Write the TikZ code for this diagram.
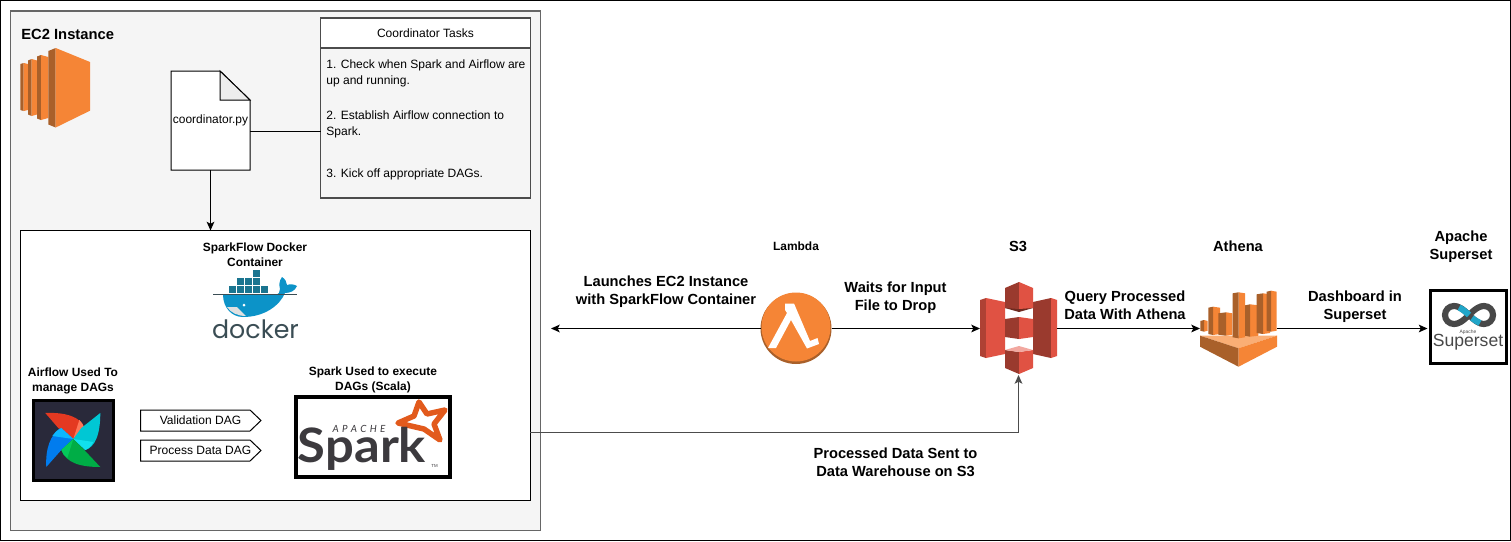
\documentclass[tikz,border=0pt]{standalone}
\usepackage{fontspec}
\setmainfont{Liberation Sans}
\newfontfamily\logofont{Poppins}
\newfontfamily\sparkfont{Lato}
\usetikzlibrary{arrows.meta}
\def\px{0.02cm}
\definecolor{awsorange}{HTML}{F58536}
\definecolor{awsbrown}{HTML}{A9602A}
\definecolor{awslight}{HTML}{FAAE75}
\definecolor{s3red}{HTML}{E05243}
\definecolor{s3dark}{HTML}{9A3A2E}
\definecolor{s3pink}{HTML}{F2A8A0}
\definecolor{s3deep}{HTML}{6E2A20}
\definecolor{flowbg}{HTML}{29293A}
\definecolor{flowred}{HTML}{E43921}
\definecolor{flowcoral}{HTML}{FF7557}
\definecolor{flowblue}{HTML}{017CEE}
\definecolor{flowsky}{HTML}{0CB6FF}
\definecolor{flowteal}{HTML}{00C7D4}
\definecolor{flowcyan}{HTML}{11E1EE}
\definecolor{flowgreen}{HTML}{00AD46}
\definecolor{flowlime}{HTML}{04C85A}
\definecolor{whale}{HTML}{0C93C8}
\definecolor{crate}{HTML}{1A7590}
\definecolor{dockgray}{HTML}{3A4D54}
\definecolor{sparkorange}{HTML}{E25A1C}
\definecolor{sparkgray}{HTML}{3C3A3E}
\definecolor{setblue}{HTML}{20A6C9}
\definecolor{setgray}{HTML}{484848}
\def\smalltext{\fontsize{6.85}{8.5}\selectfont}
\def\bigtext{\fontsize{8.35}{10.3}\selectfont}
\tikzset{
	wire/.style={line width=0.57pt},
	tip/.style={-{Stealth[length=5pt,width=4.4pt,inset=1.2pt]}},
	panel/.style={draw, rectangle, inner sep=0pt, outer sep=0pt},
	holder/.style={rectangle, inner sep=0pt, outer sep=0pt},
	plain/.style={inner sep=0pt, align=center, font=\smalltext},
	head/.style={inner sep=0pt, align=center, font=\fontsize{6.8}{8.5}\selectfont\bfseries},
	label/.style={inner sep=0pt, align=center, font=\bigtext\bfseries},
	task/.style={inner sep=0pt, anchor=west, align=left, font=\fontsize{6.85}{9.1}\selectfont},
}
\def\dagbox(#1,#2,#3){%
	\draw[wire, fill=white] (140.5,#2-10.5) -- (250,#2-10.5) -- (261,#2) -- (250,#2+10.5) -- (140.5,#2+10.5) -- cycle;
	\node[plain] (#1) at (200.5,#2) {#3};
}
\begin{document}
\begin{tikzpicture}[x=0.02cm, y=-0.02cm]
		%%%%% START %%%%%
		\useasboundingbox (0,0) rectangle (1511,541);
		\fill[white] (0,0) rectangle (1511,541);
		\node[panel, line width=0.9pt, minimum width=1510*\px, minimum height=540*\px] (frame) at (755.5,270.5) {};
		
		%%%%% EC2 side %%%%%
		\node[panel, draw=black!60, fill=black!4, wire, minimum width=530*\px, minimum height=519*\px] (ec2box) at (275.5,270.5) {};
		\node[inner sep=0pt, anchor=west, font=\fontsize{8.4}{10}\selectfont\bfseries] (ec2title) at (21,34.5) {EC2 Instance};
		
		\fill[awsbrown] (20.3,64) -- (23.7,63) -- (23.7,111) -- (20.3,110) -- cycle;
		\fill[awsorange] (23.7,63) -- (28,64) -- (28,110) -- (23.7,111) -- cycle;
		\fill[awsbrown] (28,60.5) -- (31.7,59) -- (31.7,116) -- (28,114.5) -- cycle;
		\fill[awsorange] (31.7,59) -- (37,60.5) -- (37,114.5) -- (31.7,116) -- cycle;
		\fill[awsbrown] (37,56.5) -- (41,55) -- (41,120) -- (37,118.5) -- cycle;
		\fill[awsorange] (41,55) -- (48.3,57) -- (48.3,118) -- (41,120) -- cycle;
		\fill[awsbrown] (48.3,51) -- (55.7,48) -- (55.7,127.5) -- (48.3,124.5) -- cycle;
		\fill[awsorange] (55.7,48) -- (90,62) -- (90,110.7) -- (55.7,127.5) -- cycle;
		
		\draw[wire, fill=white] (171,71) -- (220,71) -- (250,100) -- (250,170) -- (171,170) -- cycle;
		\draw[wire, fill=black!7] (220,71) -- (250,100) -- (220,100) -- cycle;
		\node[holder, minimum width=79*\px, minimum height=99*\px, font=\fontsize{6.8}{8.5}\selectfont] (coordfile) at (210.5,120.5) {coordinator.py};
		
		\node[panel, draw=black!70, line width=0.8pt, fill=black!4, minimum width=210*\px, minimum height=180*\px] (tasks) at (425.5,108) {};
		\node[panel, draw=black!70, line width=0.8pt, fill=white, minimum width=210*\px, minimum height=30*\px, font=\smalltext] (taskhead) at (425.5,33) {Coordinator Tasks};
		\node[task] (taskone) at (326,73.5) {1. Check when Spark and Airflow are\\up and running.};
		\node[task] (tasktwo) at (326,124) {2. Establish Airflow connection to\\Spark.};
		\node[task] (taskthree) at (326,174) {3. Kick off appropriate DAGs.};
		
		\coordinate (fileport) at (250,131.5);
		\draw[wire] (fileport) -- (fileport -| tasks.west);
		
		\node[panel, wire, fill=white, minimum width=510*\px, minimum height=270*\px] (dockbox) at (275.5,365.5) {};
		\draw[wire, tip] (coordfile.south) -- (coordfile.south |- dockbox.north);
		\node[head] (docktitle) at (255,255) {SparkFlow Docker\\Container};
		
		%%%%% docker logo %%%%%
		\foreach \x in {229,237,245,253,261} \fill[crate] (\x,286) rectangle ++(7.3,7.3);
		\foreach \x in {237,245,253} \fill[crate] (\x,278) rectangle ++(7.3,7.3);
		\fill[crate] (253,270) rectangle ++(7.3,7.3);
		\fill[whale] (223,294.5) -- (275,294.5) .. controls (279,294.5) and (280,292) .. (280,289) .. controls (279,285) and (279,281) .. (282,277) .. controls (285,279) and (287,282) .. (287,285) .. controls (290,284) and (294,284) .. (297,286) .. controls (295,291) and (290,293) .. (285,293) .. controls (280,305) and (265,317) .. (243,317) .. controls (232,317) and (223,308) .. (223,294.5) -- cycle;
		\fill[black!12] (227,307) -- (237,307) -- (246,316) .. controls (238,316) and (231,313) .. (227,307) -- cycle;
		\draw[dockgray, line width=0.3pt] (213,294.5) -- (297,294.5);
		\fill[white] (244,305) circle [radius=1.5*\px];
		\node[inner sep=0pt, text=dockgray, font=\fontsize{14.4}{15}\logofont] (dockword) at (255.5,329) {docker};
		
		%%%%% airflow %%%%%
		\node[head] (flowtitle) at (73,381) {Airflow Used To\\manage DAGs};
		\node[panel, line width=1.8pt, fill=flowbg, minimum width=80*\px, minimum height=80*\px] (flowbox) at (73.5,440.5) {};
		\begin{scope}[shift={(73.3,439)}]
			\fill[flowred] (-28,-26) .. controls (-8,-27) and (8,-22) .. (11,-11) -- (0,0) -- (-15,-11) -- cycle;
			\fill[flowcoral] (0,0) -- (6,-19) .. controls (9,-16) and (10,-14) .. (11,-11) -- cycle;
			\fill[flowblue] (-27,28) .. controls (-28,10) and (-23,-5) .. (-12,-11) -- (0,0) -- (-12,11) -- cycle;
			\fill[flowsky] (0,0) -- (-21,-3) .. controls (-18,-7) and (-15,-10) .. (-12,-11) -- cycle;
			\fill[flowteal] (27,-26) .. controls (27,-5) and (22,8) .. (12,11) -- (0,0) -- (8,-11) -- cycle;
			\fill[flowcyan] (0,0) -- (20,3) .. controls (18,7) and (15,10) .. (12,11) -- cycle;
			\fill[flowgreen] (27,28) .. controls (7,28) and (-7,24) .. (-12,11) -- (0,0) -- (11,11) -- cycle;
			\fill[flowlime] (0,0) -- (-12,11) .. controls (-11,14) and (-9,17) .. (-6,19) -- cycle;
		\end{scope}
		
		\dagbox(dagone,420.5,Validation DAG)
		\dagbox(dagtwo,450.5,Process Data DAG)
		
		%%%%% spark %%%%%
		\node[head] (sparktitle) at (373,380) {Spark Used to execute\\DAGs (Scala)};
		\node[panel, line width=1.8pt, fill=white, minimum width=154*\px, minimum height=80*\px] (sparkbox) at (373,437) {};
		\draw[sparkorange, line width=3.1pt, line join=round] (419,402) -- (427,414) -- (445,410) -- (434,424) -- (440,440) -- (424,429) -- (398,423) -- (414,416) -- cycle;
		\node[inner sep=0pt, text=sparkgray, font=\fontsize{5.6}{6}\sparkfont\itshape] (sparkapache) at (359,428.5) {A\,\,P\,\,A\,\,C\,\,H\,\,E};
		\node[inner sep=0pt, text=sparkgray, xscale=1.07, font=\fontsize{27}{27}\sparkfont\bfseries] (sparkword) at (362,449) {Spark};
		\node[inner sep=0pt, text=sparkgray, font=\fontsize{2.5}{3}\selectfont] (sparktm) at (434.5,466) {TM};
		
		%%%%% right side %%%%%
		\node[label] (launchtext) at (666,291.5) {Launches EC2 Instance\\with SparkFlow Container};
		\node[head] (lambdatitle) at (796,246.5) {Lambda};
		\node[circle, fill=awsbrown, inner sep=0pt, outer sep=0pt, minimum size=71*\px] (lambda) at (796,328.5) {};
		\node[circle, fill=awsorange, inner sep=0pt, outer sep=0pt, minimum size=69*\px] (lambdatop) at (796,327) {};
		\fill[white] (785,303.5) -- (794,303.5) -- (810,341) -- (817.5,338) -- (819,344) -- (807,348.5) -- (791,320) -- (776,348) -- (768,348) -- (787,313) -- (785,310) -- cycle;
		
		\node[label] (waittext) at (895.5,298) {Waits for Input\\File to Drop};
		
		\node[label] (sthreetitle) at (1018,246.5) {S3};
		\node[holder, minimum width=77*\px, minimum height=93*\px] (sthree) at (1018.5,328.5) {};
		\fill[s3dark!70!s3red] (980,300) -- (986,298) -- (986,358) -- (980,356) -- cycle;
		\fill[s3red] (986,298) -- (1005,302) -- (1005,354) -- (986,358) -- cycle;
		\fill[s3dark] (1033,302) -- (1051,298) -- (1051,358) -- (1033,354) -- cycle;
		\fill[s3red] (1051,298) -- (1057,300) -- (1057,356) -- (1051,358) -- cycle;
		\fill[s3deep] (1005,308) -- (1019,305) -- (1033,308) -- (1019,312) -- cycle;
		\fill[s3dark] (1005,288) -- (1019,282) -- (1019,309) -- (1005,308) -- cycle;
		\fill[s3red] (1019,282) -- (1033,288) -- (1033,308) -- (1019,309) -- cycle;
		\fill[s3dark] (1005,319) -- (1019,317) -- (1019,339) -- (1005,337) -- cycle;
		\fill[s3red] (1019,317) -- (1033,319) -- (1033,337) -- (1019,339) -- cycle;
		\fill[s3dark] (1005,350) -- (1019,352) -- (1019,374) -- (1005,368) -- cycle;
		\fill[s3red] (1019,352) -- (1033,350) -- (1033,368) -- (1019,374) -- cycle;
		\fill[s3pink] (1005,350) -- (1019,346) -- (1033,350) -- (1019,352) -- cycle;
		
		\node[label] (querytext) at (1125,305.5) {Query Processed\\Data With Athena};
		
		\node[label] (athenatitle) at (1238,246.5) {Athena};
		\node[holder, minimum width=77*\px, minimum height=77*\px] (athena) at (1238.5,328.5) {};
		\fill[awslight] (1200,335.7) -- (1277,335.7) -- (1238.5,348.3) -- cycle;
		\fill[awsbrown] (1200,335.7) -- (1238.5,348.3) -- (1238.5,366.7) -- (1200,346.7) -- cycle;
		\fill[awsorange] (1277,335.7) -- (1238.5,348.3) -- (1238.5,366.7) -- (1277,346.7) -- cycle;
		\foreach \xa/\xb/\xc/\ya/\yb in {
			1200.3/1204/1207.7/320/331.7,
			1208.3/1213/1220/306.7/335,
			1218.3/1226/1232.3/312.3/335.7,
			1232.7/1238.5/1245/292.3/338.3,
			1245/1250/1258.3/304.3/336.7,
			1256.7/1263/1270/293.3/334,
			1266.7/1271/1276.7/290.7/331.7}{
			\fill[awsorange] (\xb,\ya) -- (\xc,\ya+1) -- (\xc,\yb-1) -- (\xb,\yb) -- cycle;
			\fill[awsbrown] (\xa,\ya+1) -- (\xb,\ya) -- (\xb,\yb) -- (\xa,\yb-1) -- cycle;
		}
		
		\node[label] (dashtext) at (1355,306.5) {Dashboard in\\Superset};
		
		\node[label] (settitle) at (1461,246.5) {Apache\\Superset};
		\node[panel, line width=1.8pt, fill=white, minimum width=76*\px, minimum height=73*\px] (setbox) at (1468.5,327) {};
		\draw[setgray, line width=3.5pt] (1469,315) .. controls (1462,308) and (1458,306) .. (1454,306) .. controls (1449,306) and (1445,310) .. (1445,315) .. controls (1445,320) and (1449,324) .. (1454,324) .. controls (1458,324) and (1462,322) .. (1469,315) .. controls (1476,308) and (1480,306) .. (1484,306) .. controls (1489,306) and (1493,310) .. (1493,315) .. controls (1493,320) and (1489,324) .. (1484,324) .. controls (1480,324) and (1476,322) .. (1469,315);
		\draw[setblue, line width=3.5pt] (1469,315) .. controls (1465,311) and (1462,309) .. (1459,307.5);
		\draw[setblue, line width=3.5pt] (1472,318) .. controls (1475,320) and (1477,322) .. (1480,323);
		\node[inner sep=0pt, text=setgray, font=\fontsize{2.8}{3}\selectfont] (setapache) at (1468,332.5) {Apache};
		\node[inner sep=0pt, text=setgray, font=\fontsize{10}{10}\selectfont] (setword) at (1468,342.5) {Superset};
		
		%%%%% connectors %%%%%
		\coordinate (launchend) at (551,328.5);
		\coordinate (dockport) at (530,432.5);
		\draw[wire, tip] (lambda.west) -- (launchend);
		\draw[wire, tip] (lambda.east) -- (sthree.west);
		\draw[wire, tip] (sthree.east) -- (athena.west);
		\draw[wire, tip, shorten >=3*\px] (athena.east) -- (setbox.west |- athena.east);
		\draw[wire, draw=black!70, tip] (dockport) -| (sthree.south);
		\node[label] (senttext) at (895.5,462) {Processed Data Sent to\\Data Warehouse on S3};
		
		%%%%% END %%%%%
	\end{tikzpicture}
\end{document}
